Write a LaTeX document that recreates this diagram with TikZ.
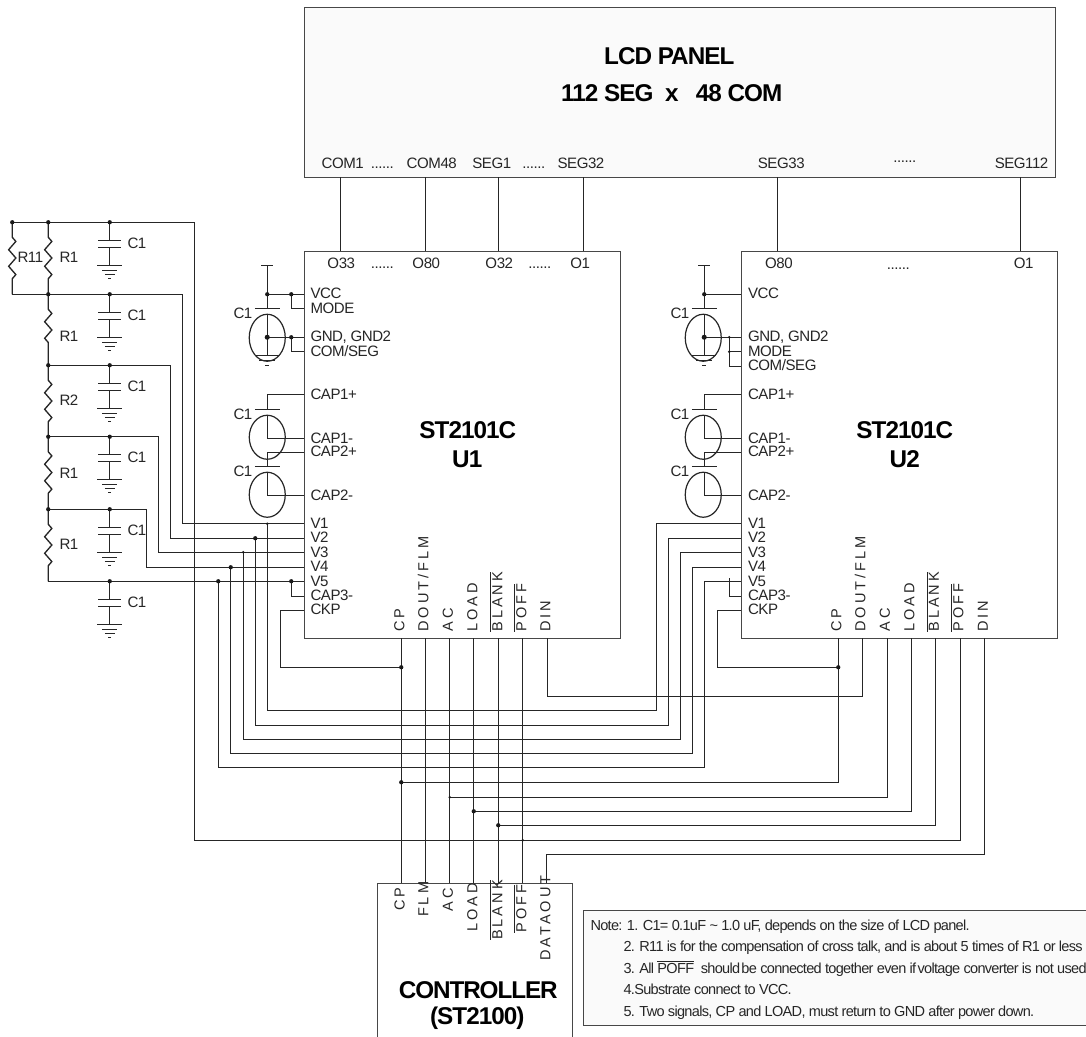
\documentclass[tikz,border=0pt]{standalone}
\usepackage{fontspec}
\usetikzlibrary{decorations.pathmorphing}
\setmainfont{Liberation Sans}
\newfontfamily\spfont[LetterSpace=21]{Liberation Sans}
\newfontfamily\labfont[LetterSpace=-3]{Liberation Sans}
\newfontfamily\notefont[LetterSpace=-4.8]{Liberation Sans}
\newfontfamily\bigfont[LetterSpace=-4]{Liberation Sans}
\newfontfamily\ctlfont[LetterSpace=-4.5]{Liberation Sans}
\def\px{0.75pt}
\def\ol#1{\setbox0\hbox{#1}\rlap{\rule[0.76em]{\wd0}{0.55pt}}\box0}
\tikzset{
  wire/.style={line width=1pt,draw=black!85},
  boxline/.style={draw=black!72,line width=1pt,fill=#1,inner sep=0pt,outer sep=0pt,anchor=north west},
  lab/.style={font=\fontsize{11.3}{12}\selectfont\labfont,inner sep=0pt,text=black!85},
  lb/.style={lab,anchor=base west},
  lc/.style={lab,anchor=base},
  vert/.style={inner sep=0pt,rotate=90,anchor=base west,text=black!85,font=\fontsize{10.9}{12}\selectfont\spfont},
  big/.style={font=\fontsize{18.2}{20}\selectfont\bfseries\bigfont,inner sep=0pt,anchor=center},
  notetxt/.style={font=\fontsize{10.9}{12}\selectfont\notefont,inner sep=0pt,anchor=base west,text=black!85},
  jdot/.style={fill=black!90},
  res/.style={wire,decorate,decoration={zigzag,segment length=16.6*\px,amplitude=3.6*\px,pre length=15*\px,post length=15*\px}},
}
% capacitor with ground, hanging from the named rail point
\newcommand\capgnd[2]{%
  \draw[wire] (#1,#2) -- (#1,#2+18) (#1-11.5,#2+18) -- (#1+11.5,#2+18)
   (#1-11.5,#2+25) -- (#1+11.5,#2+25) (#1,#2+25) -- (#1,#2+43)
   (#1-12.5,#2+43) -- (#1+12.5,#2+43) (#1-7.5,#2+48) -- (#1+7.5,#2+48)
   (#1-5,#2+52) -- (#1+5,#2+52) (#1-1.5,#2+56) -- (#1+1.5,#2+56);}
\newcommand\elcap[3]{\draw[wire,line width=0.9pt] (#1,#2) ellipse [x radius=18*\px,y radius=#3*\px];}
\begin{document}
\begin{tikzpicture}[x=\px,y=-\px]
\useasboundingbox (0,0) rectangle (1086,1036);
\clip (0,0) rectangle (1086,1036);
\fill[white] (0,0) rectangle (1086,1036);
\begin{scope}[shift={(0.25,0.25)}]

% ---------- boxes
\node[boxline=black!2,minimum width=751*\px,minimum height=170*\px] (lcd) at (304,7) {};
\node[boxline=white,minimum width=316*\px,minimum height=387*\px] (u1) at (304,251) {};
\node[boxline=white,minimum width=316*\px,minimum height=387*\px] (u2) at (741,251) {};
\node[boxline=white,minimum width=195*\px,minimum height=180*\px] (ctl) at (377,883) {};
\node[boxline=black!2,minimum width=540*\px,minimum height=115*\px] (notes) at (583,910) {};

% ---------- named pins and rails
\foreach \n/\x/\y in {
  l1/340/177,l2/425.5/177,l3/498/177,l4/583/177,l5/777.5/177,l6/1020/177,
  t1/340/251,t2/425.5/251,t3/498/251,t4/583/251,t5/777.5/251,t6/1020/251,
  a1/304/294,a2/304/308,a3/304/337,a4/304/351,a5/304/394,a6/304/438,a7/304/452,a8/304/495,
  av1/304/523.5,av2/304/538,av3/304/552,av4/304/567,av5/304/581,a9/304/596,a10/304/610,
  b1/741/294,b3/741/337,b2/741/351.5,b4/741/366,b5/741/394.5,b6/741/438,b7/741/452,b8/741/495,
  bv1/741/523.5,bv2/741/538,bv3/741/552,bv4/741/567,bv5/741/581,b9/741/596,b10/741/610,
  ucp/401/638,uds/425.5/638,uac/449.5/638,uld/473.5/638,ubk/498/638,upf/522.5/638,udi/547/638,
  wcp/838/638,wds/862/638,wac/887/638,wld/911/638,wbk/935.5/638,wpf/960/638,wdi/984/638,
  ccp/401/883,cfl/425.5/883,cac/449.5/883,cld/473.5/883,cbk/498/883,cpf/522.5/883,cdo/546.5/883,
  n11t/12/222,n1t/48/222,c1t/109.5/222,bus/194/222,
  n11b/12/294,n2/48/294,c2t/109.5/294,
  n3/48/365,c3t/109.5/365,n4/48/436.5,c4t/109.5/436.5,n5/48/509,c5t/109.5/509,n6/48/581,c6t/109.5/581,
  rv1/182/294,rv2/170/365,rv3/158/436.5,rv4/146/509,
  jv1/267/523.5,jv2/255/538,jv3/243/552,jv4/230.5/567,jv5/218/581,j35/291/581,
  ev1/656/523.5,ev2/668/538,ev3/680/552,ev4/692/567,ev5/704.5/581,k35/729/581,
  ckj1/401/667,ckj2/838/667,dinj/547/696,
  pcp/401/782,pac/449.5/797,pld/473.5/811,pbk/498/825,ppf/522.5/840,pdo/546.5/854,
  vcc1/267/265,vcct1/267/294,vcd1/291/294,g1/267/337,gd1/291/337,
  vcc2/704/265,vcct2/704/294,g2/704/337,gd2/729/337,gm2/729/351.5}
  {\coordinate (\n) at (\x,\y);}

% ---------- panel to driver lines
\foreach \i in {1,...,6} \draw[wire] (l\i) -- (t\i);

% ---------- resistor ladder
\draw[wire,line width=1.1pt] (n11t) -- (bus);
\draw[res] (n11t) -- (n11b);
\draw[res] (n1t) -- (n2);
\draw[res] (n2) -- (n3);
\draw[res] (n3) -- (n4);
\draw[res] (n4) -- (n5);
\draw[res] (n5) -- (n6);
\capgnd{109.5}{222}\capgnd{109.5}{294}\capgnd{109.5}{365}\capgnd{109.5}{436.5}\capgnd{109.5}{509}\capgnd{109.5}{581}
\draw[wire] (n11b) -- (rv1) |- (av1);
\draw[wire] (n3) -- (rv2) |- (av2);
\draw[wire] (n4) -- (rv3) |- (av3);
\draw[wire] (n5) -- (rv4) |- (av4);
\draw[wire] (n6) -- (av5);

% ---------- U1 left side
\draw[wire] (vcc1)+(-6,0) -- +(6,0);
\draw[wire] (vcc1) -- (267,308) (254.5,308) -- (279.5,308);
\draw[wire] (vcct1) -- (a1);
\draw[wire] (vcd1) |- (a2);
\draw[wire] (267,314) -- (267,355) (255,355) -- (279,355) (259,360) -- (275,360) (265,365) -- (269,365);
\draw[wire] (g1) -- (a3);
\draw[wire] (gd1) |- (a4);
\elcap{267}{337.5}{23.5}
\draw[wire] (a5) -| (267,409) (254.5,409) -- (279.5,409);
\elcap{267}{437}{22}
\draw[wire] (267,415) |- (a6);
\draw[wire] (a7) -| (267,466) (254.5,466) -- (279.5,466);
\elcap{267}{494.5}{22.5}
\draw[wire] (267,472) |- (a8);
\draw[wire] (j35) |- (a9);
\draw[wire] (a10) -| (280,667) -- (ckj1);

% ---------- U2 left side
\draw[wire] (vcc2)+(-6,0) -- +(6,0);
\draw[wire] (vcc2) -- (704,308) (691.5,308) -- (716.5,308);
\draw[wire] (vcct2) -- (b1);
\draw[wire] (704,314) -- (704,355) (692,355) -- (716,355) (696,360) -- (712,360) (702,365) -- (706,365);
\draw[wire] (g2) -- (b3);
\draw[wire] (gd2) |- (b4);
\draw[wire] (gm2) -- (b2);
\elcap{703}{337.5}{23.5}
\draw[wire] (b5) -| (704,409) (691.5,409) -- (716.5,409);
\elcap{703}{437}{22}
\draw[wire] (704,415) |- (b6);
\draw[wire] (b7) -| (704,466) (691.5,466) -- (716.5,466);
\elcap{703}{494.5}{22.5}
\draw[wire] (704,472) |- (b8);
\draw[wire] (729,578) |- (b9);
\draw[wire] (b10) -| (717,667) -- (ckj2);

% ---------- bias lines from U1 to U2
\draw[wire] (jv1) |- (ev1 |- 0,710) -- (ev1) -- (bv1);
\draw[wire] (jv2) |- (ev2 |- 0,725) -- (ev2) -- (bv2);
\draw[wire] (jv3) |- (ev3 |- 0,739) -- (ev3) -- (bv3);
\draw[wire] (jv4) |- (ev4 |- 0,753) -- (ev4) -- (bv4);
\draw[wire] (jv5) |- (ev5 |- 0,767.5) -- (ev5) -- (bv5);

% ---------- signals
\draw[wire] (ucp) -- (ccp);
\draw[wire] (uds) -- (cfl);
\draw[wire] (uac) -- (cac);
\draw[wire] (uld) -- (cld);
\draw[wire] (ubk) -- (cbk);
\draw[wire] (upf) -- (cpf);
\draw[wire] (wds) |- (dinj) -- (udi);
\draw[wire] (pcp) -| (wcp);
\draw[wire] (pac) -| (wac);
\draw[wire] (pld) -| (wld);
\draw[wire] (pbk) -| (wbk);
\draw[wire] (bus) |- (ppf) -| (wpf);
\draw[wire] (cdo) |- (wdi |- pdo) -- (wdi);

% ---------- junction dots
\foreach \n in {n11t,n1t,c1t,n2,c2t,n3,c3t,n4,c4t,n5,c5t,c6t,vcct1,vcd1,gd1,jv2,jv4,jv5,j35,ckj1,ckj2,pcp,pld,pbk,vcct2}
  \fill[jdot] (\n) circle[radius=1.6pt];
\foreach \n in {g1,g2} \fill[jdot] (\n) circle[radius=1.9pt];
\foreach \n in {jv1,jv3,pac,ppf,gd2,gm2} \fill[jdot] (\n) circle[radius=1.05pt];

% ---------- titles
\node[big] (tLCD) at (669,56) {LCD PANEL};
\node[big] (tSize) at (671.5,93) {112 SEG\ \ x\ \ \ 48 COM};
\node[big] (tU1a) at (467.5,430) {ST2101C};
\node[big] (tU1b) at (467,459) {U1};
\node[big] (tU2a) at (904.5,430) {ST2101C};
\node[big] (tU2b) at (904.5,459) {U2};
\node[big,font=\fontsize{18.2}{20}\selectfont\bfseries\ctlfont] (tC1) at (478,990) {CONTROLLER};
\node[big] (tC2) at (477,1018) {(ST2100)};

% ---------- panel labels
\node[lc] (pl1) at (342.5,168.3) {COM1};
\node[lc] (pl2) at (382,168.3) {......};
\node[lc] (pl3) at (431.5,168.3) {COM48};
\node[lc] (pl4) at (491.5,168.3) {SEG1};
\node[lc] (pl5) at (533.5,168.3) {......};
\node[lc] (pl6) at (580.7,168.3) {SEG32};
\node[lc] (pl7) at (781,168.3) {SEG33};
\node[lc] (pl8) at (904.5,162.3) {......};
\node[lc] (pl9) at (1021.3,168.3) {SEG112};
\node[lc] (tl1) at (341,268) {O33};
\node[lc] (tl2) at (382,268.3) {......};
\node[lc] (tl3) at (426,268) {O80};
\node[lc] (tl4) at (499,268) {O32};
\node[lc] (tl5) at (539.5,268.3) {......};
\node[lc] (tl6) at (580,268) {O1};
\node[lc] (tl7) at (778.6,268) {O80};
\node[lc] (tl8) at (898,269) {......};
\node[lc] (tl9) at (1023.5,268) {O1};

% ---------- U1 left labels
\foreach \n/\y/\t in {a/298.5/VCC,b/313/MODE,c/341.5/{GND, GND2},d/356/{COM/SEG},e/399/CAP1+,f/443/CAP1-,g/456.5/CAP2+,h/500/CAP2-,
   i/528.5/V1,j/542.5/V2,k/557/V3,l/571.5/V4,m/586/V5,n/600.5/CAP3-,o/614.5/CKP}
  \node[lb] (lu1\n) at (310,\y) {\t};
\foreach \n/\y/\t in {a/298.5/VCC,c/341.5/{GND, GND2},b/356/MODE,d/370.5/{COM/SEG},e/399/CAP1+,f/443/CAP1-,g/456.5/CAP2+,h/500/CAP2-,
   i/528.5/V1,j/542.5/V2,k/557/V3,l/571.5/V4,m/586/V5,n/600.5/CAP3-,o/614.5/CKP}
  \node[lb] (lu2\n) at (747.5,\y) {\t};

% ---------- C1 labels
\foreach \n/\x/\y in {1/127/248,2/127/320,3/127/391,4/127/462.5,5/127/535,6/127/607,
   7/233/318,8/233/419,9/233/476,10/670/318,11/670/419,12/670/476}
  \node[lb] (cl\n) at (\x,\y) {C1};
\node[lb] (rl11) at (17,262) {R11};
\node[lb] (rl1) at (59,262) {R1};
\node[lb] (rl2) at (59,341) {R1};
\node[lb] (rl3) at (59,405.5) {R2};
\node[lb] (rl4) at (59,478) {R1};
\node[lb] (rl5) at (59,549) {R1};

% ---------- vertical pin labels
\node[vert] (vu1) at (404,631.7) {CP};
\node[vert] (vu2) at (428,631.7) {DOUT/FLM};
\node[vert] (vu3) at (452.7,631.7) {AC};
\node[vert] (vu4) at (477,631.7) {LOAD};
\node[vert] (vu5) at (502,631.7) {\ol{BLANK}};
\node[vert] (vu6) at (526,631.7) {\ol{POFF}};
\node[vert] (vu7) at (550,631.7) {DIN};
\node[vert] (vw1) at (841,631.7) {CP};
\node[vert] (vw2) at (865,631.7) {DOUT/FLM};
\node[vert] (vw3) at (889.5,631.7) {AC};
\node[vert] (vw4) at (914,631.7) {LOAD};
\node[vert] (vw5) at (938.5,631.7) {\ol{BLANK}};
\node[vert] (vw6) at (963,631.7) {\ol{POFF}};
\node[vert] (vw7) at (987.5,631.7) {DIN};
\node[vert] (vc1) at (404.3,911) {CP};
\node[vert] (vc2) at (428,917) {FLM};
\node[vert] (vc3) at (452.7,911.7) {AC};
\node[vert] (vc4) at (477,932) {LOAD};
\node[vert] (vc5) at (502,940) {\ol{BLANK}};
\node[vert] (vc6) at (526,932.7) {\ol{POFF}};
\node[vert] (vc7) at (550,961) {DATAOUT};

% ---------- notes
\node[notetxt] (no1) at (590,930) {Note: 1. C1= 0.1uF \string~ 1.0 uF, depends on the size of LCD panel.};
\node[notetxt] (no2) at (623,951.5) {2. R11 is for the compensation of cross talk, and is about 5 times of R1 or less};
\node[notetxt] (no3) at (623,973) {3. All \ol{POFF}\ \ should\kern-1.5pt\ be connected together even if\kern-1.5pt\ voltage converter is not used};
\node[notetxt] (no4) at (623,994.5) {4.Substrate connect to VCC.};
\node[notetxt] (no5) at (623,1016) {5. Two signals, CP and LOAD, must return to GND after power down.};
\end{scope}
\end{tikzpicture}
\end{document}
